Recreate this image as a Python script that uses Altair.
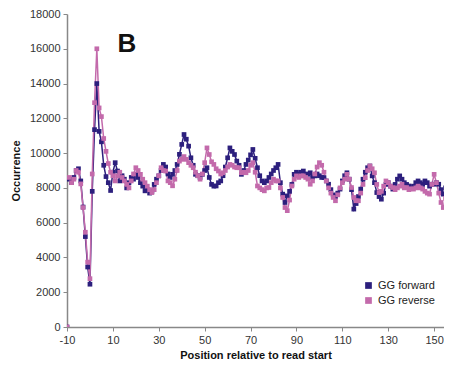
import altair as alt
import pandas as pd

positions = list(range(-10, 156))

gg_forward = [
    0, 8500, 8300, 8600, 9000, 9100, 8400, 6900, 5200, 3450,
    2460, 7800, 11350, 14000, 11250, 10650, 9300, 8650, 8300, 7850,
    8900, 9450, 8970, 8400, 8700, 8500, 8000, 8300, 8600, 8500,
    8780, 8600, 8300, 8100, 7830, 7900, 7700, 7800, 8200, 8500,
    8690, 9000, 9350, 9200, 8800, 8600, 8780, 9000, 9350, 9930,
    10500, 11070, 10800, 10400, 9730, 9300, 8780, 8700, 8600, 8780,
    9000, 9160, 8600, 8200, 8100, 8110, 8300, 8400, 8700, 9200,
    9730, 10300, 10100, 9920, 9540, 9300, 8780, 9000, 9350, 9600,
    9900, 10210, 9700, 9160, 8700, 8400, 8300, 8400, 8600, 8800,
    9000, 9160, 9350, 8300, 7640, 7160, 7540, 7800, 8200, 8780,
    8900, 8800, 8900, 8970, 8800, 8780, 8870, 8600, 8690, 8800,
    8700, 8600, 8590, 8400, 8210, 7900, 7600, 7500, 7700, 7930,
    8400, 8700, 8870, 8500, 7900, 6780, 7100, 7500, 7930, 8500,
    8900, 9160, 9260, 8690, 8300, 7730, 7500, 7350, 7700, 8200,
    8300, 8100, 7930, 8200, 8500, 8690, 8500, 8300, 8200, 8110,
    8000, 8100, 8300, 8400, 8300, 8200, 8400, 8300, 8100, 8210,
    8210, 8300, 8210, 7900, 7640, 8000,
]

gg_reverse = [
    0, 8600, 8300, 8500, 9000, 8900, 8230, 6870, 5450, 3730,
    2780, 8800, 12900, 16000, 12600, 12100, 10840, 10100, 9400, 8900,
    8700, 8400, 8690, 8900, 8600, 8400, 8200, 8000, 8400, 8800,
    9160, 9000, 8780, 8500, 8300, 8100, 7900, 7730, 7900, 8300,
    8700, 9160, 9000, 8970, 8400, 8300, 8120, 8500, 9000, 9540,
    9640, 9800, 9640, 9450, 9300, 9160, 8900, 8700, 8500, 8800,
    9450, 10300, 9920, 9500, 9350, 9100, 8970, 8800, 8870, 9000,
    9200, 9350, 9300, 9200, 9160, 9160, 8870, 8900, 8870, 9000,
    9300, 9450, 8900, 8110, 8000, 7900, 7830, 8000, 8020, 8300,
    8500, 8400, 8400, 8000, 7450, 6870, 6690, 7300, 8110, 8500,
    8690, 8600, 8690, 8690, 8600, 8500, 8210, 8400, 8800, 9200,
    9450, 9300, 8900, 8400, 8000, 7700, 7450, 7260, 7600, 8000,
    8300, 8500, 8780, 8500, 8020, 7450, 7260, 7260, 7700, 8200,
    8590, 9000, 9260, 9100, 8870, 8200, 7730, 7800, 8100, 8400,
    8300, 8100, 8020, 7900, 8000, 8100, 8210, 8000, 8020, 7900,
    7950, 7930, 8000, 8100, 8000, 7930, 7800, 7700, 7640, 8200,
    8780, 8300, 7700, 7160, 6870, 7400,
]

series_names = ["GG forward", "GG reverse"]
series_colors = ["#2C1F7D", "#C36AAB"]
x_ticks = [-10, 10, 30, 50, 70, 90, 110, 130, 150]
y_ticks = list(range(0, 18001, 2000))
panel_label = ["B"]

df = pd.concat([
    pd.DataFrame({"pos": positions, "val": gg_forward, "series": series_names[0]}),
    pd.DataFrame({"pos": positions, "val": gg_reverse, "series": series_names[1]}),
])

font = "Liberation Sans"

x_enc = alt.X("pos:Q",
              scale=alt.Scale(domain=[-10, 154.3], nice=False, zero=False),
              axis=alt.Axis(values=x_ticks, title="Position relative to read start",
                            labelExpr="'' + datum.value",
                            grid=False, labelFont=font, labelFontSize=11, labelColor="#333",
                            titleFont=font, titleFontSize=11, titleFontWeight="bold",
                            titleColor="#111", domainColor="#888", domainWidth=1.5,
                            tickColor="#888", tickSize=4, labelPadding=3, titlePadding=4,
                            labelFlush=False))
y_enc = alt.Y("val:Q",
              scale=alt.Scale(domain=[0, 18000], nice=False),
              axis=alt.Axis(values=y_ticks, title="Occurrence", grid=False,
                            labelExpr="'' + datum.value",
                            labelFont=font, labelFontSize=11, labelColor="#333",
                            titleFont=font, titleFontSize=11, titleFontWeight="bold",
                            titleColor="#111", domainColor="#888", domainWidth=1.5,
                            tickColor="#888", tickSize=4, labelPadding=3, titlePadding=8))
c_enc = alt.Color("series:N",
                  scale=alt.Scale(domain=series_names, range=series_colors),
                  legend=alt.Legend(title=None, orient="none", legendX=296, legendY=266,
                                    symbolType="square", symbolSize=45,
                                    labelFont=font, labelFontSize=11, labelColor="#222",
                                    rowPadding=3, symbolStrokeWidth=0))

base = alt.Chart(df)

lines = base.mark_line(strokeWidth=1.5, clip=True).encode(
    x=x_enc, y=y_enc, color=c_enc, detail="series:N"
).transform_filter(alt.datum.pos > -10)

points = base.mark_point(shape="square", size=22, filled=True, opacity=1, clip=True).encode(
    x=x_enc, y=y_enc, color=c_enc
)

label = alt.Chart(pd.DataFrame({"t": panel_label})).mark_text(
    font=font, fontSize=26, fontWeight="bold", color="#111", align="center", baseline="middle"
).encode(x=alt.value(60), y=alt.value(30), text="t:N")

chart = alt.layer(lines, points, label).properties(
    width=377, height=313,
    autosize=alt.AutoSizeParams(type="none"),
    padding={"left": 59, "top": 6, "right": 0, "bottom": 35},
).configure_view(stroke=None)

chart.save("out.html", embed_options={"renderer": "svg", "actions": False})
